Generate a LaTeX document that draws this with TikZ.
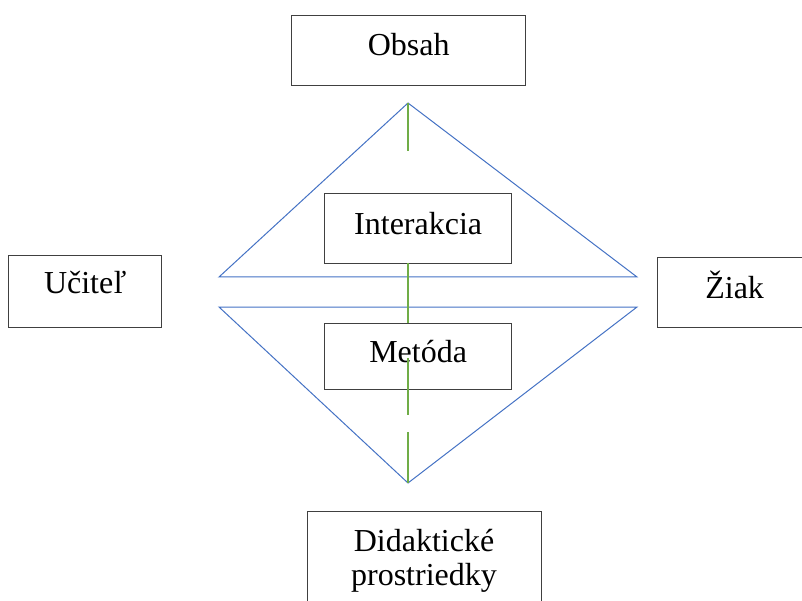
\documentclass[tikz,border=0pt]{standalone}
\usepackage{fontspec}
\setmainfont{Liberation Serif}
\usepackage{xcolor}
\usetikzlibrary{positioning, calc}

\definecolor{boxgray}{HTML}{404040}
\definecolor{triblue}{HTML}{4472C4}
\definecolor{axisgreen}{HTML}{70AD47}

\tikzset{
  box/.style={draw=boxgray, line width=1.3pt, fill=white, inner sep=0pt,
    anchor=north west, text height=40pt, text depth=30pt,
    font=\fontsize{32}{34}\selectfont},
  tri/.style={draw=triblue, line width=1pt, line join=miter},
}

\begin{document}
\begin{tikzpicture}[x=1pt, y=-1pt]
\useasboundingbox (0,0) rectangle (802,601);

% apexes and base corners of the two triangles
\coordinate (otop) at (408,103);
\coordinate (obot) at (408,483);
\coordinate (ul) at (219,277);
\coordinate (ur) at (637,277);
\coordinate (ll) at (219,307);
\coordinate (lr) at (637,307);

\draw[tri] (ul) -- (otop) -- (ur) -- cycle;
\draw[tri] (ll) -- (lr) -- (obot) -- cycle;

% boxes
\node[box, minimum width=234pt] (obsah) at (291,15) {Obsah};
\node[box, minimum width=187pt, text height=41pt, text depth=29pt] (inter) at (324,193) {Interakcia};
\node[box, minimum width=187pt, text height=39pt, text depth=27pt] (metoda) at (324,323) {Metóda};
\node[box, minimum width=153pt, text height=38pt, text depth=34pt] (ucitel) at (8,255) {Učiteľ};
\node[box, minimum width=154pt, text height=41pt, text depth=29pt] (ziak) at (657,257) {Žiak};
\node[box, minimum width=234pt, minimum height=120pt, text height=0pt, text depth=0pt] (didbox) at (307,511) {};
\node[anchor=base, align=center, inner sep=0pt, font=\fontsize{32}{34}\selectfont] (didak) at (424,585) {Didaktické\\prostriedky};

% green axis, hidden behind the boxes in places
\draw[draw=axisgreen, line width=1.2pt,
  dash pattern=on 48pt off 112pt on 60pt off 35pt on 57pt off 17pt on 60pt off 60pt]
  (otop) -- (obot);
\end{tikzpicture}
\end{document}
